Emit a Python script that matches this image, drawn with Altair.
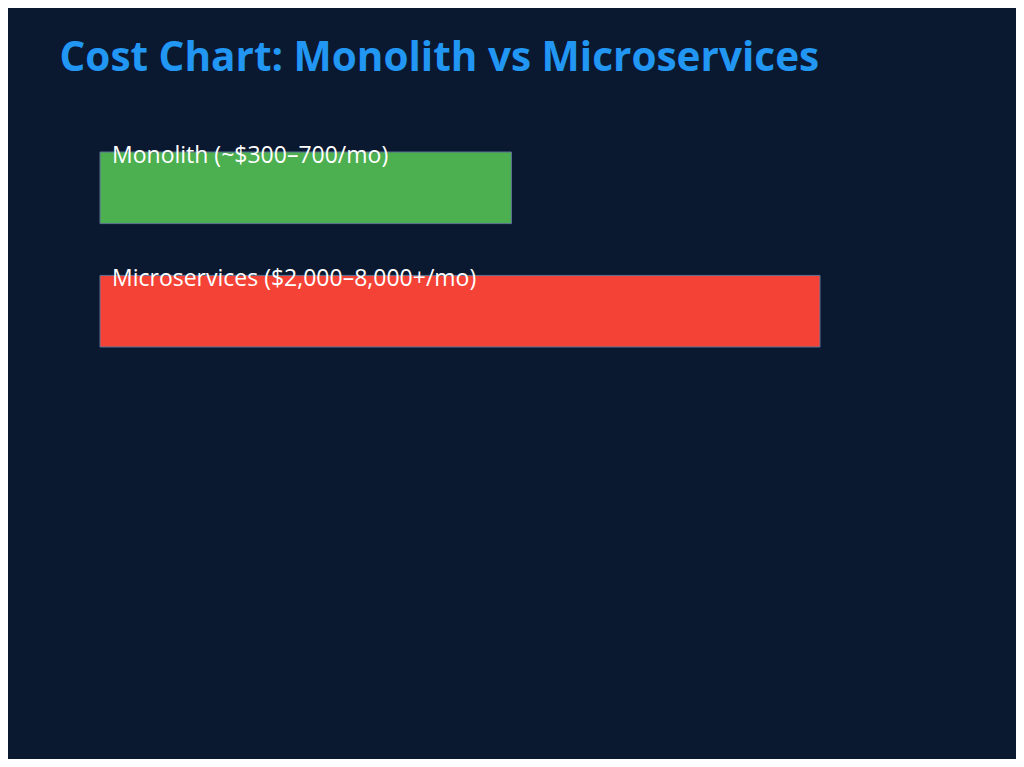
import altair as alt
import pandas as pd

categories = ["Monolith", "Microservices"]
labels = ["Monolith (~$300–700/mo)", "Microservices ($2,000–8,000+/mo)"]
relative_cost = [4, 7]
colors = ["#4caf50", "#f44336"]

df = pd.DataFrame({"cat": categories, "label": labels, "cost": relative_cost, "color": colors})

BG = "#0b1930"

x = alt.X("cost:Q", scale=alt.Scale(domain=[0, 7], nice=False, zero=True), axis=None)
y = alt.Y("cat:N", sort=categories, axis=None,
          scale=alt.Scale(paddingInner=0.42, paddingOuter=0))

bars = alt.Chart(df).mark_bar(stroke="#5b7395", strokeWidth=1, cornerRadius=0).encode(
    x=x, y=y, color=alt.Color("color:N", scale=None)
)

text = alt.Chart(df).mark_text(
    align="left", baseline="middle", dx=12, dy=4, fontSize=23,
    font="Open Sans", color="#ffffff"
).encode(
    x=alt.datum(0),
    y=alt.Y("cat:N", sort=categories, axis=None, bandPosition=0,
            scale=alt.Scale(paddingInner=0.42, paddingOuter=0)),
    text="label:N",
)

chart = (bars + text).properties(
    width=720,
    height=195,
    background=BG,
    padding={"left": 92, "top": 144, "right": 196, "bottom": 412},
    autosize=alt.AutoSizeParams(type="none"),
    title=alt.TitleParams(
        "Cost Chart: Monolith vs Microservices",
        anchor="start", dx=-40, offset=0, dy=-34,
        font="Open Sans", fontSize=40.5, fontWeight="bold", color="#2196f3",
        baseline="alphabetic",
    ),
).configure_view(stroke=None)

chart.save("out.html", embed_options={"renderer": "svg", "actions": False})
